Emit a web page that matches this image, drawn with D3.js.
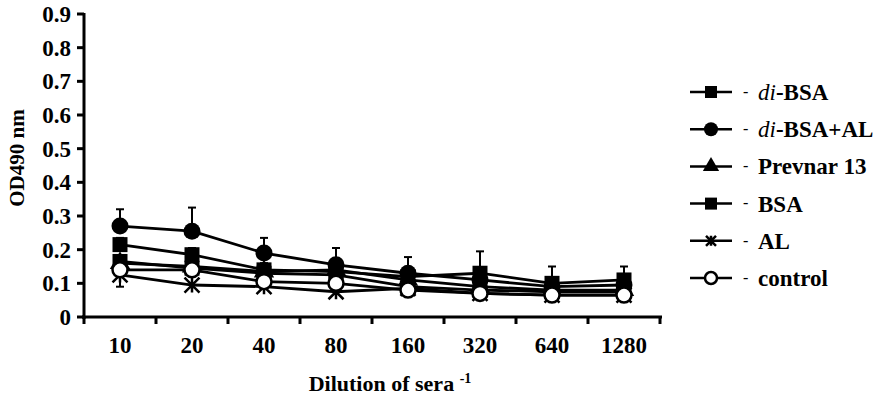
<!DOCTYPE html>
<html>
<head>
<meta charset="utf-8">
<script src="https://cdn.jsdelivr.net/npm/d3@7"></script>
<style>
  body { margin: 0; background: #fff; }
  svg text { font-family: "Times New Roman", Times, "Liberation Serif", "DejaVu Serif", serif; font-weight: bold; }
</style>
</head>
<body>
<div id="chart"></div>
<script>
// Data
const dilutions = ["10", "20", "40", "80", "160", "320", "640", "1280"];
const yTicks = [0, 0.1, 0.2, 0.3, 0.4, 0.5, 0.6, 0.7, 0.8, 0.9];
const seriesNames = ["di-BSA", "di-BSA+AL", "Prevnar 13", "BSA", "AL", "control"];

const diBSA      = [0.215, 0.185, 0.14, 0.135, 0.12, 0.13, 0.10, 0.11];
const diBSA_AL   = [0.27, 0.255, 0.19, 0.155, 0.13, 0.11, 0.09, 0.095];
const prevnar13  = [0.16, 0.15, 0.135, 0.14, 0.11, 0.09, 0.08, 0.08];
const bsa        = [0.165, 0.145, 0.13, 0.125, 0.09, 0.08, 0.075, 0.075];
const al         = [0.125, 0.095, 0.09, 0.075, 0.085, 0.07, 0.065, 0.065];
const control    = [0.14, 0.14, 0.105, 0.10, 0.08, 0.07, 0.065, 0.065];

// upper error bars (0 = hidden behind marker)
const diBSA_err    = [0.02, 0.02, 0.02, 0.02, 0.02, 0.065, 0.05, 0.04];
const diBSA_AL_err = [0.05, 0.07, 0.045, 0.05, 0.048, 0.02, 0.02, 0.02];
const al_errLow    = [0.035, 0, 0, 0, 0, 0, 0, 0];

const series = [
  { name: seriesNames[0], values: diBSA, up: diBSA_err, marker: "square" },
  { name: seriesNames[1], values: diBSA_AL, up: diBSA_AL_err, marker: "circle" },
  { name: seriesNames[2], values: prevnar13, marker: "triangle" },
  { name: seriesNames[3], values: bsa, marker: "square" },
  { name: seriesNames[4], values: al, down: al_errLow, marker: "star" },
  { name: seriesNames[5], values: control, marker: "open" }
];

const margin = { top: 14, left: 84 },
      width = 576, height = 303;

const svg = d3.select("#chart").append("svg")
    .attr("width", 886).attr("height", 395);

const g = svg.append("g")
    .attr("transform", "translate(" + margin.left + "," + margin.top + ")");

const x = d3.scaleBand().domain(dilutions).range([0, width]);
const y = d3.scaleLinear().domain([0, 0.9]).range([height, 0]);
const cx = d => x(d) + x.bandwidth() / 2;

// y axis
g.append("line").attr("x1", 0).attr("x2", 0).attr("y1", y(0.9) - 1).attr("y2", height + 2)
  .attr("stroke", "#000").attr("stroke-width", 3);
g.selectAll(".ytick").data(yTicks).enter().append("line")
  .attr("x1", -7).attr("x2", 0).attr("y1", d => y(d)).attr("y2", d => y(d))
  .attr("stroke", "#000").attr("stroke-width", 3);
g.selectAll(".ylab").data(yTicks).enter().append("text")
  .attr("x", -13).attr("y", d => y(d)).attr("dy", "0.35em")
  .attr("text-anchor", "end").style("font-size", "23px")
  .text(d => d === 0 ? "0" : d3.format(".1f")(d));

// x axis
g.append("line").attr("x1", -2).attr("x2", width + 2).attr("y1", height).attr("y2", height)
  .attr("stroke", "#000").attr("stroke-width", 3);
const xTickPos = dilutions.map(d => x(d)).concat([width]);
g.selectAll(".xtick").data(xTickPos).enter().append("line")
  .attr("x1", d => d).attr("x2", d => d).attr("y1", height).attr("y2", height + 7)
  .attr("stroke", "#000").attr("stroke-width", 3);
g.selectAll(".xlab").data(dilutions).enter().append("text")
  .attr("x", d => cx(d)).attr("y", height + 36)
  .attr("text-anchor", "middle").style("font-size", "23px")
  .text(d => d);

// axis titles
const xt = svg.append("text").attr("x", 390).attr("y", 391)
  .attr("text-anchor", "middle").style("font-size", "22px");
xt.append("tspan").text("Dilution of sera ");
xt.append("tspan").attr("dy", -8).style("font-size", "14px").text("-1");

svg.append("text")
  .attr("transform", "translate(24,158) rotate(-90)")
  .attr("text-anchor", "middle").style("font-size", "21px")
  .text("OD490 nm");

// marker drawing
function drawMarker(sel, type, size) {
  if (type === "square") {
    sel.append("rect").attr("x", -size).attr("y", -size)
      .attr("width", size * 2).attr("height", size * 2).attr("fill", "#000");
  } else if (type === "circle") {
    sel.append("circle").attr("r", size + 1).attr("fill", "#000");
  } else if (type === "open") {
    sel.append("circle").attr("r", size).attr("fill", "#fff")
      .attr("stroke", "#000").attr("stroke-width", 2.5);
  } else if (type === "triangle") {
    sel.append("path").attr("d", d3.symbol(d3.symbolTriangle, size * size * 3.2)())
      .attr("fill", "#000");
  } else if (type === "star") {
    const s = size;
    sel.append("path")
      .attr("d", `M${-s},${-s}L${s},${s}M${s},${-s}L${-s},${s}M0,${-s}L0,${s}`)
      .attr("stroke", "#000").attr("stroke-width", 2.5).attr("fill", "none");
  }
}

const line = d3.line().x(d => cx(d.k)).y(d => y(d.v));

// lines first
series.forEach(s => {
  const pts = dilutions.map((k, i) => ({ k, v: s.values[i] }));
  g.append("path").datum(pts)
    .attr("fill", "none").attr("stroke", "#000").attr("stroke-width", 2.8)
    .attr("d", line);
});

// error bars
series.forEach(s => {
  dilutions.forEach((k, i) => {
    const v = s.values[i];
    const segs = [];
    if (s.up && s.up[i] > 0) segs.push(v + s.up[i]);
    if (s.down && s.down[i] > 0) segs.push(v - s.down[i]);
    segs.forEach(e => {
      g.append("line").attr("x1", cx(k)).attr("x2", cx(k)).attr("y1", y(v)).attr("y2", y(e))
        .attr("stroke", "#000").attr("stroke-width", 2);
      g.append("line").attr("x1", cx(k) - 4).attr("x2", cx(k) + 4).attr("y1", y(e)).attr("y2", y(e))
        .attr("stroke", "#000").attr("stroke-width", 2);
    });
  });
});

// markers
series.forEach(s => {
  dilutions.forEach((k, i) => {
    const m = g.append("g").attr("transform", `translate(${cx(k)},${y(s.values[i])})`);
    drawMarker(m, s.marker, 7.5);
  });
});

// legend
const legend = svg.selectAll(".legend").data(series).enter().append("g")
  .attr("transform", (d, i) => `translate(690,${92 + i * 37.2})`);
legend.append("line").attr("x1", 0).attr("x2", 42).attr("y1", 0).attr("y2", 0)
  .attr("stroke", "#000").attr("stroke-width", 2.5);
legend.each(function(d) {
  const m = d3.select(this).append("g").attr("transform", "translate(21,0)");
  drawMarker(m, d.marker, d.marker === "star" ? 5 : 6);
});
legend.append("text").attr("x", 53).attr("y", 0).attr("dy", "0.3em")
  .style("font-size", "16px").style("font-weight", "normal").text("-");
legend.append("text").attr("x", 68).attr("y", 0).attr("dy", "0.35em")
  .style("font-size", "23px")
  .each(function(d) {
    const t = d3.select(this);
    if (d.name.startsWith("di-")) {
      t.append("tspan").style("font-style", "italic").style("font-weight", "normal").text("di");
      t.append("tspan").text(d.name.slice(2));
    } else {
      t.text(d.name);
    }
  });
</script>
</body>
</html>
